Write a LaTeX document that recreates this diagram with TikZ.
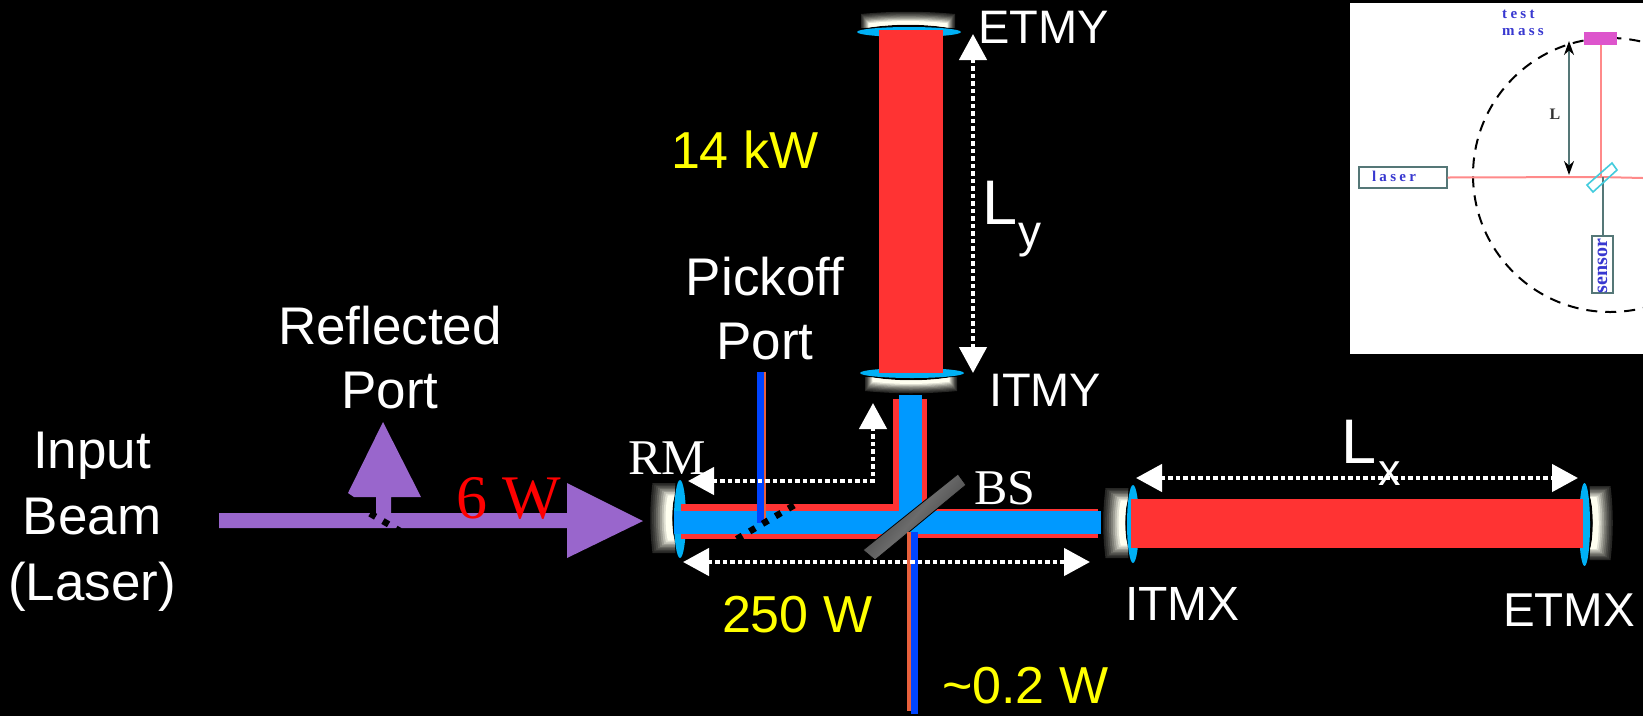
\documentclass[tikz,border=0pt]{standalone}
\usepackage{fontspec}
\setmainfont{Liberation Sans}
\newfontfamily\timesf{Liberation Serif}
\newfontfamily\insetf[LetterSpace=22]{Liberation Serif}
\usetikzlibrary{arrows.meta}
\definecolor{beamred}{HTML}{FF3333}
\definecolor{beamblue}{HTML}{0099FF}
\definecolor{lensblue}{HTML}{00B0F5}
\definecolor{pickblue}{HTML}{0044FF}
\definecolor{pickorange}{HTML}{E8603C}
\definecolor{purplebeam}{HTML}{9966CC}
\definecolor{cream}{HTML}{FFFFF0}
\definecolor{insetblue}{HTML}{3838D0}
\definecolor{insetred}{HTML}{FF8A8A}
\definecolor{insetgray}{HTML}{557777}
\definecolor{insetpink}{HTML}{DD55CC}
\definecolor{bscyan}{HTML}{44CCDD}
\definecolor{yellowtxt}{HTML}{FFFF00}
\newcommand{\mirrorat}[5]{%
  \begin{scope}[shift={(#1,#2)},rotate=#3]
  \foreach \i/\m in {0/15,1/22,2/30,3/40,4/50,5/62,6/75,7/88,8/100}{
    \pgfmathsetmacro{\dd}{\i*#5/12}
    \fill[cream!\m!black]
      (-#4+\dd*0.8,-#5+\dd) .. controls (-#4/3,-#5+\dd-3) and (#4/3,-#5+\dd-3) .. (#4-\dd*0.8,-#5+\dd)
      -- (#4-\dd*0.8,-0.05*\dd) .. controls (#4/3,-4.5) and (-#4/3,-4.5) .. (-#4+\dd*0.8,-0.05*\dd) -- cycle;
  }
  \end{scope}}
\tikzset{
  x=1pt,y=-1pt,
  txt/.style={inner sep=0pt,outer sep=0pt,text=white},
  sans46/.style={txt,anchor=base west,font=\fontsize{47}{50}\selectfont},
  sans53/.style={txt,align=center,font=\fontsize{53}{64}\selectfont},
  power/.style={txt,anchor=base west,text=yellowtxt,font=\fontsize{52}{56}\selectfont},
  serif50/.style={txt,anchor=base west,font=\timesf\fontsize{50}{54}\selectfont},
  span/.style={white,line width=4.5pt,dash pattern=on 4.5pt off 3pt,
    {Triangle[length=26pt,width=27pt]}-{Triangle[length=26pt,width=27pt]}},
  pickdots/.style={black,line width=6.5pt,dash pattern=on 6.5pt off 8.5pt},
  lens/.style={fill=lensblue,draw=none},
  redbeam/.style={fill=beamred,draw=none},
  bluebeam/.style={fill=beamblue,draw=none},
  purplefill/.style={fill=purplebeam,draw=none},
  inlabel/.style={inner sep=0pt,text=insetblue,font=\insetf\bfseries\fontsize{15}{17}\selectfont},
  inbox/.style={draw=insetgray,line width=1.4pt,fill=white,inner sep=0pt},
}
\begin{document}
\begin{tikzpicture}
\useasboundingbox (0,0) rectangle (1643,716);
\fill[black] (0,0) rectangle (1643,716);

% mirrors
\mirrorat{908}{28}{0}{47}{14}
\mirrorat{911}{377}{180}{46}{14}
\mirrorat{675.5}{518}{90}{35}{23}
\mirrorat{1128.5}{523}{90}{35}{23}
\mirrorat{1589.5}{523}{-90}{37}{21}

% lenses
\fill[lens] (909,32) ellipse [x radius=52,y radius=5];
\fill[lens] (912,373) ellipse [x radius=52,y radius=5];
\fill[lens] (680,519) ellipse [x radius=6,y radius=39];
\fill[lens] (1133,524) ellipse [x radius=6,y radius=39];
\fill[lens] (1584.5,524.5) ellipse [x radius=5.5,y radius=41.5];

% arm cavities
\fill[redbeam] (879,30) rectangle (943,373);
\fill[redbeam] (1131,499) rectangle (1583,548);

% recycling cavity
\fill[redbeam] (893,399) rectangle (927,512);
\fill[redbeam] (681,504) rectangle (900,539);
\fill[redbeam] (915,509) rectangle (1098,538);
\fill[bluebeam] (899,395) rectangle (922,534);
\fill[bluebeam] (674,511) rectangle (1101,534);

% beam splitter
\path[left color=black!78,right color=black!78,middle color=black!58,draw=black,line width=0.8pt,shading angle=50]
  (958,474) -- (966,485) -- (875,560) -- (863,550) -- cycle;

% output and pickoff beams
\fill[pickorange] (907,532) rectangle (911,711);
\fill[pickblue] (911,532) rectangle (918,714);
\fill[pickblue] (757,372) rectangle (764,523);
\fill[pickorange] (764,372) rectangle (766,523);

% input beam
\fill[purplefill] (219,513) -- (567,513) -- (567,483) -- (643,521) -- (567,558) -- (567,528) -- (219,528) -- cycle;
\fill[purplefill] (376,516) -- (376,497) -- (354,497) -- (348,493) -- (383,422) -- (421,497) -- (391,497) -- (391,516) -- cycle;

% pickoff dots
\coordinate (dotsA) at (794,505.3);
\coordinate (dotsB) at (735,540);
\draw[pickdots] (dotsA) -- (dotsB);
\coordinate (dotsC) at (370,513.5);
\coordinate (dotsD) at (400,531);
\draw[pickdots] (dotsC) -- (dotsD);

% length arrows
\coordinate (rmTip) at (688,481);
\coordinate (corner) at (873,481);
\coordinate (upTip) at (873,403);
\draw[span] (rmTip) -- (corner) -- (upTip);
\coordinate (botL) at (683,562);
\coordinate (botR) at (1090,562);
\draw[span] (botL) -- (botR);
\coordinate (lyT) at (973,34);
\coordinate (lyB) at (973,373);
\draw[span] (lyT) -- (lyB);
\coordinate (lxL) at (1136,478);
\coordinate (lxR) at (1578,478);
\draw[span] (lxL) -- (lxR);

% labels
\node[sans46] (etmy) at (978,43) {ETMY};
\node[sans46] (itmy) at (989,406) {ITMY};
\node[sans46,font=\fontsize{48}{50}\selectfont] (itmx) at (1125,620) {ITMX};
\node[sans46,font=\fontsize{47.5}{50}\selectfont] (etmx) at (1503,626) {ETMX};
\node[power] (pa) at (671,168) {14 kW};
\node[power] (pb) at (722,632) {250 W};
\node[power] (pc) at (942,703) {\char"007E 0.2 W};
\node[sans53,font=\fontsize{53}{66}\selectfont] (input) at (92,522) {Input\\Beam\\(Laser)};
\node[sans53] (refl) at (390,358) {Reflected\\Port};
\node[sans53] (pick) at (765,309) {Pickoff\\Port};
\node[serif50] (rm) at (628,474) {RM};
\node[serif50] (bs) at (974,504) {BS};
\node[txt,anchor=base west,text=red,font=\timesf\fontsize{62}{66}\selectfont] (six) at (456,518) {6 W};
\node[txt,anchor=base west,font=\fontsize{63}{66}\selectfont] (ly) at (982.5,224) {L};
\node[txt,anchor=base west,font=\fontsize{46}{50}\selectfont] (lys) at (1018.5,247) {y};
\node[txt,anchor=base west,font=\fontsize{63}{66}\selectfont] (lx) at (1341.5,463) {L};
\node[txt,anchor=base west,font=\fontsize{45}{50}\selectfont] (lxs) at (1378,485) {x};

% inset
\begin{scope}
\clip (1350,3) rectangle (1643,354);
\fill[white] (1350,3) rectangle (1643,354);
\draw[black,line width=2pt,dash pattern=on 11pt off 8pt] (1610,175) circle [radius=137];
\node[inbox,minimum width=88pt,minimum height=21pt] (laser) at (1403,177.5) {};
\node[inlabel] (laserlab) at (1394,176) {laser};
\node[fill=insetpink,minimum width=33pt,minimum height=13pt,inner sep=0pt] (mass) at (1600.5,38.5) {};
\node[inbox,minimum width=21pt,minimum height=57pt] (sensor) at (1602.5,264.5) {};
\begin{scope}
\clip (1593,237) rectangle (1612,292);
\node[inlabel,rotate=90,font=\timesf\bfseries\fontsize{20}{22}\selectfont] (sensorlab) at (1602.5,266) {sensor};
\end{scope}
\coordinate (bsc) at (1600,177);
\coordinate (rightEnd) at (1643,178);
\draw[insetred,line width=2pt] (laser.east) -- (bsc) -- (rightEnd);
\draw[insetred,line width=2pt] (mass.south) -- (mass.south |- bsc);
\draw[insetgray,line width=2pt] (sensor.north |- bsc) -- (sensor.north);
\draw[bscyan,line width=1.6pt] (1612,163) -- (1617,170) -- (1593,192) -- (1587,185) -- cycle;
\coordinate (la) at (1569,41);
\coordinate (lb) at (1569,175);
\draw[insetgray,line width=2pt,{Stealth[black,length=14pt,width=10pt]}-{Stealth[black,length=14pt,width=10pt]}] (la) -- (lb);
\node[inner sep=0pt,text=black!80,font=\timesf\bfseries\fontsize{16}{18}\selectfont] (llab) at (1555,114) {L};
\node[inlabel,align=left,anchor=north west] (tm) at (1502,10) {test\\mass};
\end{scope}
\end{tikzpicture}
\end{document}
